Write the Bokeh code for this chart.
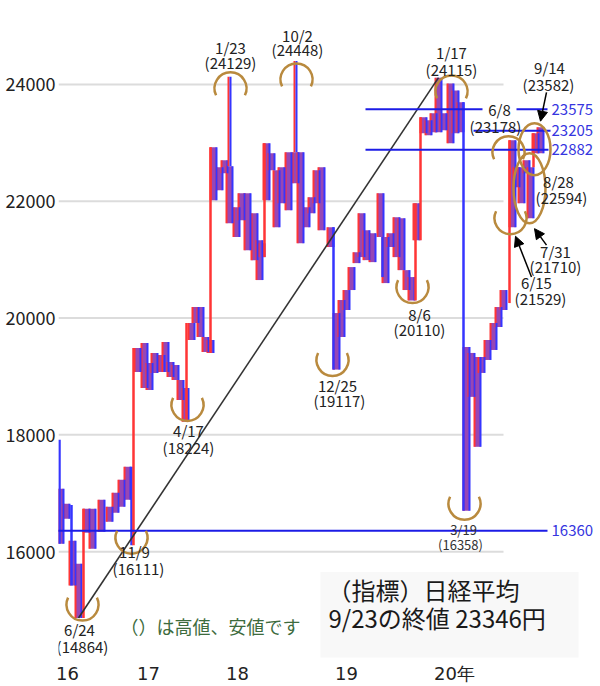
from bokeh.plotting import figure
from bokeh.models import Range1d, FixedTicker, Arrow, NormalHead
from bokeh.core.properties import value
from bokeh.embed import file_html
from bokeh.resources import INLINE
import math

FONT = "Noto Sans CJK JP"

# ---- data -------------------------------------------------------------
y_ticks = [16000, 18000, 20000, 22000, 24000]
year_pos = [67, 148, 237, 346, 454]          # column position of each January
year_labels = ["16", "17", "18", "19", "20年"]

# columns (position, low, high)
col_pos = [60, 66, 72, 78, 86, 92, 101, 109, 115, 121, 127,
           137, 144, 149, 154, 161, 165, 170, 175, 180, 185, 191, 195, 200, 205, 210,
           213, 219, 224, 229, 236, 241, 247, 254, 259, 261, 266, 271, 276, 281, 288, 295,
           300, 306, 311, 316, 321, 330,
           336, 341, 346, 351, 356, 361, 366, 372, 380, 385, 390, 396, 401, 406, 411, 416,
           423, 428, 433, 438, 443, 450, 455, 460, 466, 471, 477, 481, 487, 493, 498, 503,
           512, 516, 521, 526, 530, 535, 540]
col_low = [16137, 16564, 15419, 14864, 16325, 16050, 16342, 16513, 16667, 16769, 16889,
           19077, 18803, 18769, 19060, 19077, 19077, 18991, 18940, 18598, 18224, 19624, 19915, 19675, 19419, 19402,
           22017, 22188, 22479, 21624, 21385, 21675, 21162, 20991, 20650, 21043, 22017, 22530, 21556, 21966, 21846, 22308,
           21282, 21556, 21795, 21966, 21504, 21214,
           19117, 19675, 20137, 20479, 20940, 21043, 20991, 20957, 21385, 20598, 21214, 21043, 20820, 20479, 20300, 21333,
           23162, 23128, 23179, 23179, 23214, 22991, 23162, 23179, 16700, 18650, 17795, 19060, 19282, 19453, 19846, 20137,
           21556, 22239, 21966, 22479, 21710, 22821, 22821]
col_high = [17077, 16820, 16188, 15795, 16735, 16735, 16889, 16769, 17009, 17231, 17453,
            19487, 19573, 19231, 19402, 19368, 19590, 19248, 19197, 18940, 18803, 19915, 20188, 20188, 19675, 19624,
            22923, 22581, 22701, 22600, 21897, 22137, 22137, 21795, 21333, 21282, 22991, 22821, 22530, 22581, 22838, 22838,
            22838, 21897, 22068, 22530, 22581, 21556,
            20085, 20308, 20479, 20872, 21128, 21795, 21504, 21453, 22137, 21385, 21453, 21726, 21709, 20820, 20701, 21966,
            23436, 23385, 23504, 24115, 23504, 24017, 23897, 23692, 19504, 19402, 19333, 19333, 19624, 19915, 20188, 20479,
            23043, 22581, 22581, 22701, 22581, 23162, 23265]

# long moves between columns
jump_pos = [59, 71, 83, 131, 133, 186, 210, 264, 333, 382, 415, 420, 463, 509, 533]
jump_from = [17915, 16800, 14864, 17453, 16111, 18224, 19402, 21043, 21556, 21385, 20300, 21333, 23692, 20256, 22581]
jump_to = [16137, 15419, 16735, 16111, 19487, 19915, 22923, 22991, 19117, 20701, 21966, 23436, 16700, 23043, 23162]

# needle highs
spike_pos = [229, 295]
spike_low = [22600, 22838]
spike_high = [24129, 24400]

# horizontal reference levels
level_val = [23575, 23575, 23205, 22882, 16360]
level_x0 = [365, 516, 473, 365, 48]
level_x1 = [482, 547, 550, 548, 547]
level_labels = ["23575", "23205", "22882", "16360"]
level_label_val = [23575, 23205, 22882, 16360]

# trend line: 6/24 low to 1/17 high
trend_pos = [78, 438]
trend_val = [14864, 24115]

# highlight arcs
arc_pos = [230, 296, 451, 508, 187, 332, 412, 131, 82, 464, 510]
arc_val = [23932, 24085, 23880, 22838, 18513, 19282, 20530, 16239, 15094, 16820, 21709]
arc_top = [True, True, True, True, False, False, False, False, False, False, False]
oval_pos = [529, 534]
oval_val = [22222, 22889]

# date / price annotations
ann_text = ["1/23", "(24129)", "10/2", "(24448)", "1/17", "(24115)", "9/14", "(23582)",
            "6/8", "(23178)", "8/28", "(22594)", "7/31", "(21710)", "6/15", "(21529)",
            "8/6", "(20110)", "12/25", "(19117)", "4/17", "(18224)", "11/9", "(16111)",
            "6/24", "(14864)"]
ann_pos = [230, 230, 297, 297, 451, 451, 549, 548, 499, 495, 558, 561, 555, 555, 536, 540,
           419, 419, 337, 339, 188, 188, 134, 138, 79, 82]
ann_val = [24632, 24376, 24838, 24598, 24547, 24256, 24291, 24000, 23573, 23282, 22342, 22068,
           21145, 20889, 20615, 20342, 20068, 19812, 18838, 18581, 18068, 17778, 16000, 15709,
           14667, 14376]
small_text = ["3/19", "(16358)"]
small_pos = [463, 460]
small_val = [16376, 16120]

# arrows (start -> end)
arrow_x0 = [546, 531, 546]
arrow_v0 = [23863, 20701, 21248]
arrow_x1 = [540, 515, 534]
arrow_v1 = [23370, 21400, 21530]

# ---- figure -----------------------------------------------------------
p = figure(width=600, height=686, x_range=Range1d(58, 600), y_range=Range1d(14188, 25436),
           output_backend="svg", toolbar_location=None,
           min_border_left=58, min_border_right=0, min_border_top=0, min_border_bottom=28)
p.outline_line_color = None
p.xgrid.visible = False
p.ygrid.visible = False
p.background_fill_color = "white"

for ax in (p.xaxis[0], p.yaxis[0]):
    ax.axis_line_color = None
    ax.major_tick_line_color = None
    ax.minor_tick_line_color = None
    ax.major_tick_out = 0
    ax.major_tick_in = 0
    ax.major_label_text_font_size = "18px"
    ax.major_label_text_color = "#222222"
p.yaxis.major_label_text_font = FONT
p.yaxis.ticker = FixedTicker(ticks=y_ticks)
p.yaxis.major_label_overrides = {v: str(v) for v in y_ticks}
p.yaxis.major_label_standoff = 3
p.xaxis.major_label_text_font = "DejaVu Sans"
p.xaxis.ticker = FixedTicker(ticks=year_pos)
p.xaxis.major_label_overrides = {x: t for x, t in zip(year_pos, year_labels)}
p.xaxis.major_label_standoff = 5

# faint box behind the caption
p.quad(left=[320], right=[578], bottom=[14080], top=[15650], fill_color="#f8f8f8", line_color=None)

# grid lines
p.segment(x0=[58] * len(y_ticks), x1=[503] * len(y_ticks), y0=y_ticks, y1=y_ticks,
          line_color="#dcdcdc", line_width=2)

RED = "#ff3535"
BLUE = "#3535ff"
HW = 3
# columns
p.quad(left=[x - HW for x in col_pos], right=[x + HW for x in col_pos],
       bottom=col_low, top=col_high, fill_color="#9747b5", line_color=None)
p.segment(x0=[x - HW for x in col_pos], x1=[x - HW for x in col_pos], y0=col_low, y1=col_high,
          line_color=RED, line_width=2)
p.segment(x0=[x + HW for x in col_pos], x1=[x + HW for x in col_pos], y0=col_low, y1=col_high,
          line_color=BLUE, line_width=2)
# jumps
jump_col = [RED if t > f else BLUE for f, t in zip(jump_from, jump_to)]
p.segment(x0=jump_pos, x1=jump_pos, y0=jump_from, y1=jump_to, line_color=jump_col, line_width=2.5)
# spikes
p.segment(x0=[x - 1 for x in spike_pos], x1=[x - 1 for x in spike_pos], y0=spike_low, y1=spike_high,
          line_color=RED, line_width=2)
p.segment(x0=[x + 1 for x in spike_pos], x1=[x + 1 for x in spike_pos], y0=spike_low, y1=spike_high,
          line_color=BLUE, line_width=2)

# trend line
p.line(trend_pos, trend_val, line_color="#333333", line_width=1.6)

# level lines
p.segment(x0=level_x0, x1=level_x1, y0=level_val, y1=level_val, line_color="#1c1ce6", line_width=2)
p.text(x=[551] * len(level_labels), y=level_label_val, text=level_labels,
       text_font=value(FONT), text_font_size="15px", text_color="#3535e0",
       text_align="left", text_baseline="middle")

# arcs
GOLD = "#b98a3e"
tops = [(x, v) for x, v, t in zip(arc_pos, arc_val, arc_top) if t]
bots = [(x, v) for x, v, t in zip(arc_pos, arc_val, arc_top) if not t]
p.arc(x=[a[0] for a in tops], y=[a[1] for a in tops], radius=16, radius_units="screen",
      start_angle=-0.45, end_angle=math.pi + 0.45, direction="anticlock",
      line_color=GOLD, line_width=2.5)
p.arc(x=[a[0] for a in bots], y=[a[1] for a in bots], radius=16, radius_units="screen",
      start_angle=math.pi - 0.45, end_angle=2 * math.pi + 0.45, direction="anticlock",
      line_color=GOLD, line_width=2.5)
p.ellipse(x=oval_pos, y=oval_val, width=[32, 32], height=[70, 52],
          width_units="screen", height_units="screen",
          fill_color=None, line_color=GOLD, line_width=2.5)

# annotations
p.text(x=ann_pos, y=ann_val, text=ann_text, text_font=value(FONT), text_font_size="15px",
       text_color="#222222", text_align="center", text_baseline="middle")
p.text(x=small_pos, y=small_val, text=small_text, text_font=value(FONT), text_font_size="13px",
       text_color="#333333", text_align="center", text_baseline="middle")

for x0, v0, x1, v1 in zip(arrow_x0, arrow_v0, arrow_x1, arrow_v1):
    p.add_layout(Arrow(end=NormalHead(size=10, fill_color="black", line_color="black"),
                       x_start=x0, y_start=v0, x_end=x1, y_end=v1,
                       line_color="black", line_width=1.5))

# captions
p.text(x=[327, 328], y=[15350, 14872], text=["（指標）日経平均", "9/23の終値 23346円"],
       text_font=value(FONT), text_font_size="24px", text_color="#1a1a1a",
       text_align="left", text_baseline="middle")
p.text(x=[120], y=[14735], text=["（）は高値、安値です"], text_font=value(FONT),
       text_font_size="18px", text_color="#3d6b3d", text_align="left", text_baseline="middle")

open("out.html", "w").write(file_html(p, INLINE))
